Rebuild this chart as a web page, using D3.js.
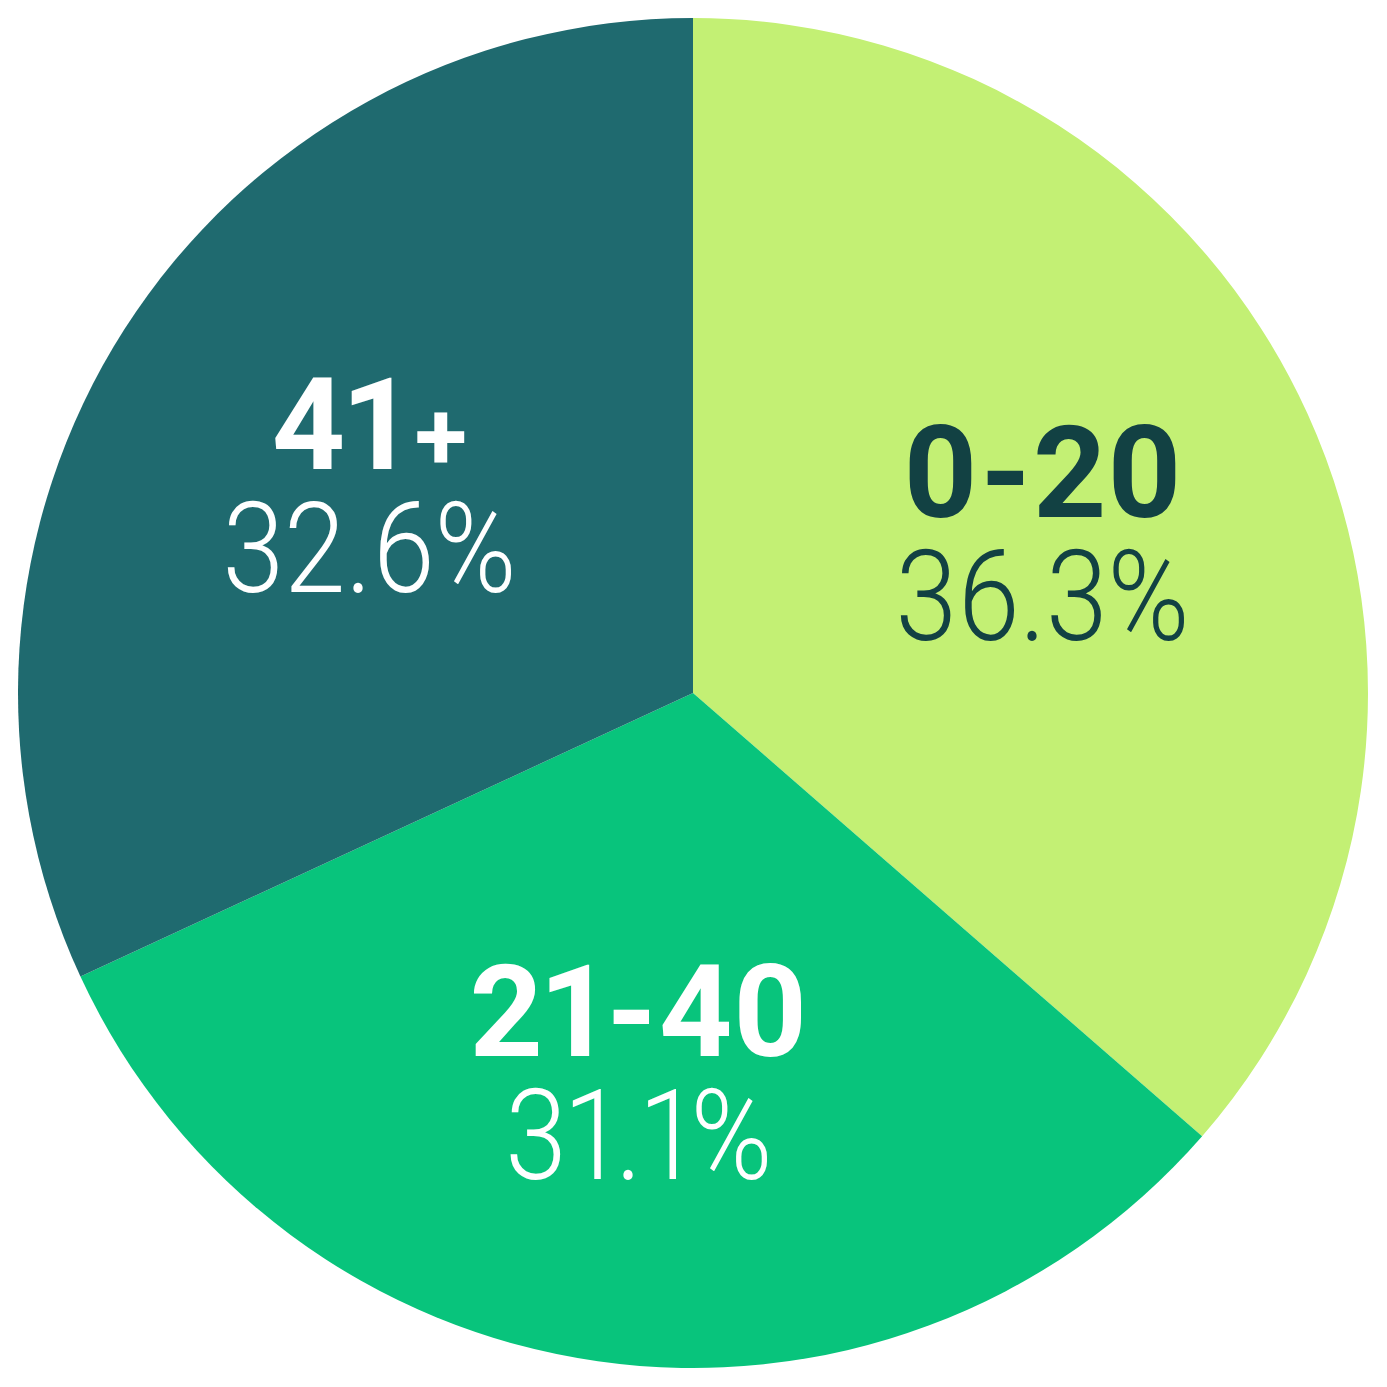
<!DOCTYPE html>
<html>
<head>
<meta charset="utf-8">
<script src="https://cdn.jsdelivr.net/npm/d3@7"></script>
<style>
  html, body { margin: 0; padding: 0; background: #fff; }
  svg { display: block; }
  text { font-variant-numeric: proportional-nums; font-feature-settings: "pnum" 1; }
</style>
</head>
<body>
<div id="chart"></div>
<script>
// slice sizes as drawn (angles), labels as printed
const groups = ["0-20", "21-40", "41+"];
const shares = [36.4, 31.7, 31.9];
const pctLabels = ["36.3%", "31.1%", "32.6%"];
const colors = ["#c3f074", "#08c47c", "#1f6a6f"];
const textColors = ["#124143", "#ffffff", "#ffffff"];

const width = 1387, height = 1387;
const cx = 693, cy = 693, radius = 675;

const svg = d3.select("#chart")
  .append("svg")
  .attr("width", width)
  .attr("height", height);

const g = svg.append("g").attr("transform", `translate(${cx},${cy})`);

const data = groups.map((name, i) => ({ name, value: shares[i], pct: pctLabels[i], i }));

const pie = d3.pie().sort(null).value(d => d.value);
const arc = d3.arc().innerRadius(0).outerRadius(radius);
const labelArc = d3.arc().innerRadius(384).outerRadius(384);

const arcs = pie(data);

g.selectAll("path.slice")
  .data(arcs)
  .enter()
  .append("path")
  .attr("class", "slice")
  .attr("d", arc)
  .attr("fill", d => colors[d.data.i]);

const labels = g.selectAll("g.label")
  .data(arcs)
  .enter()
  .append("g")
  .attr("class", "label")
  .attr("transform", d => `translate(${labelArc.centroid(d)})`);

// group name, bold
const nameText = labels.append("text")
  .attr("y", -17)
  .attr("text-anchor", "middle")
  .attr("font-family", "Roboto, sans-serif")
  .attr("font-weight", 700)
  .attr("font-size", 128)
  .attr("fill", d => textColors[d.data.i]);

nameText.each(function (d) {
  const t = d3.select(this);
  const name = d.data.name;
  if (name.endsWith("+")) {
    t.append("tspan").text(name.slice(0, -1));
    t.append("tspan").attr("font-size", 96).attr("dx", 8).text("+");
  } else {
    const parts = name.split("-");
    t.append("tspan").text(parts[0]);
    t.append("tspan").attr("dx", 2).text("-");
    t.append("tspan").attr("dx", 2).text(parts[1]);
  }
});

// percentage, light and a bit condensed
labels.append("text")
  .attr("transform", "translate(0,106) scale(0.88,1)")
  .attr("text-anchor", "middle")
  .attr("font-family", "Roboto, sans-serif")
  .attr("font-weight", 300)
  .attr("font-size", 126)
  .attr("fill", d => textColors[d.data.i])
  .text(d => d.data.pct);
</script>
</body>
</html>
